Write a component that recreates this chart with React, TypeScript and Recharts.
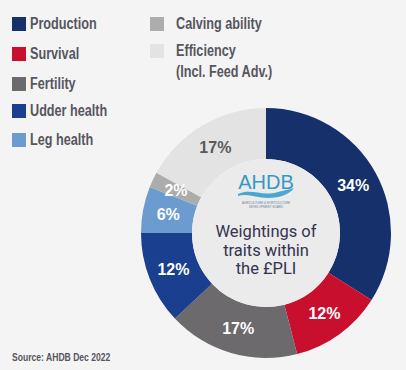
import { Legend, Pie, PieChart } from "recharts";

const traits = [
  "Production",
  "Survival",
  "Fertility",
  "Udder health",
  "Leg health",
  "Calving ability",
  "Efficiency",
];
const weights = [34, 12, 17, 12, 6, 2, 17];
const colors = ["#15306a", "#c8102e", "#6d6a6d", "#1a3f8f", "#6c9bd0", "#adacac", "#e4e3e3"];
const labelColors = ["#fff", "#fff", "#fff", "#fff", "#fff", "#fff", "#5a5a5a"];
const centerLines = ["Weightings of", "traits within", "the £PLI"];

const data = traits.map((name, i) => ({ name, value: weights[i], fill: colors[i] }));

const RAD = Math.PI / 180;
const narrow = "'Liberation Sans', Arial, sans-serif";

const renderLabel = (props: any) => {
  const { cx, cy, midAngle, innerRadius, outerRadius, index } = props;
  const r = (innerRadius + outerRadius) / 2;
  const x = cx + r * Math.cos(-midAngle * RAD);
  const y = cy + r * Math.sin(-midAngle * RAD);
  return (
    <text
      x={x}
      y={y}
      textAnchor="middle"
      dominantBaseline="central"
      fill={labelColors[index]}
      fontFamily="Liberation Sans, Arial, sans-serif"
      fontWeight="bold"
      fontSize={16}
    >
      {weights[index]}%
    </text>
  );
};

// logo + title drawn as the label of the centre disc so it sits on top
const renderCenter = (props: any) => {
  const { cx, cy } = props;
  return (
    <g>
      <text
        x={cx}
        y={cy - 44}
        textAnchor="middle"
        fill="#3599c4"
        fontFamily="Liberation Sans, Arial, sans-serif"
        fontSize={20}
      >
        AHDB
      </text>
      <path
        d={`M${cx - 28},${cy - 39} C${cx - 14},${cy - 45} ${cx - 4},${cy - 36} ${cx + 12},${cy - 41} C${cx + 20},${cy - 43} ${cx + 25},${cy - 44} ${cx + 28},${cy - 45} C${cx + 24},${cy - 39} ${cx + 14},${cy - 35} ${cx + 2},${cy - 35} C${cx - 10},${cy - 35} ${cx - 18},${cy - 40} ${cx - 28},${cy - 37} Z`}
        fill="#4aa8d0"
      />
      <text x={cx} y={cy - 29} textAnchor="middle" fill="#6a8a9a" fontSize={3} fontFamily="Liberation Sans, sans-serif">
        AGRICULTURE &amp; HORTICULTURE
      </text>
      <text x={cx} y={cy - 25.5} textAnchor="middle" fill="#6a8a9a" fontSize={3} fontFamily="Liberation Sans, sans-serif">
        DEVELOPMENT BOARD
      </text>
      {centerLines.map((line, i) => (
        <text
          key={line}
          x={cx}
          y={cy + 4 + i * 18.5}
          textAnchor="middle"
          fill="#33334d"
          fontFamily="Roboto, sans-serif"
          fontSize={16.5}
        >
          {line}
        </text>
      ))}
    </g>
  );
};

function LegendBox() {
  const rows = [
    { i: 0, x: 12, y: 24 },
    { i: 1, x: 12, y: 54 },
    { i: 2, x: 12, y: 84 },
    { i: 3, x: 12, y: 111 },
    { i: 4, x: 12, y: 140 },
    { i: 5, x: 150, y: 24 },
    { i: 6, x: 150, y: 51 },
  ];
  return (
    <div style={{ position: "relative", width: 406, height: 160 }}>
      {rows.map(({ i, x, y }) => (
        <div key={i}>
          <div
            style={{
              position: "absolute",
              left: x,
              top: y - 7,
              width: 14,
              height: 14,
              background: colors[i],
            }}
          />
          <div
            style={{
              position: "absolute",
              left: x + (x > 100 ? 26 : 18),
              top: y - 11,
              fontFamily: narrow,
              fontWeight: "bold",
              fontSize: 16,
              lineHeight: "21px",
              color: "#56565f",
              whiteSpace: "nowrap",
              transform: "scaleX(0.79)",
              transformOrigin: "left center",
            }}
          >
            {traits[i]}
            {i === 6 && <div>(Incl. Feed Adv.)</div>}
          </div>
        </div>
      ))}
    </div>
  );
}

export default function App() {
  return (
    <div
      style={{
        position: "absolute",
        left: 0,
        top: 0,
        width: 406,
        height: 370,
        background: "#f4f4f4",
      }}
    >
      <PieChart width={406} height={370} margin={{ top: 0, right: 0, bottom: 0, left: 0 }}>
        <Pie
          data={data}
          dataKey="value"
          nameKey="name"
          cx={266}
          cy={233}
          innerRadius={74}
          outerRadius={125}
          startAngle={90}
          endAngle={-270}
          stroke="none"
          label={renderLabel}
          labelLine={false}
          isAnimationActive={false}
        />
        <Pie
          data={[{ name: "center", value: 1 }]}
          dataKey="value"
          cx={266}
          cy={233}
          innerRadius={0}
          outerRadius={74}
          fill="#ebebeb"
          stroke="none"
          label={renderCenter}
          labelLine={false}
          isAnimationActive={false}
        />
        <Legend
          content={() => <LegendBox />}
          wrapperStyle={{ left: 0, top: 0, width: 406, height: 160 }}
        />
        <text
          transform="translate(12,361) scale(0.78,1)"
          fill="#56565f"
          fontFamily={narrow}
          fontWeight="bold"
          fontSize={11}
        >
          Source: AHDB Dec 2022
        </text>
      </PieChart>
    </div>
  );
}
